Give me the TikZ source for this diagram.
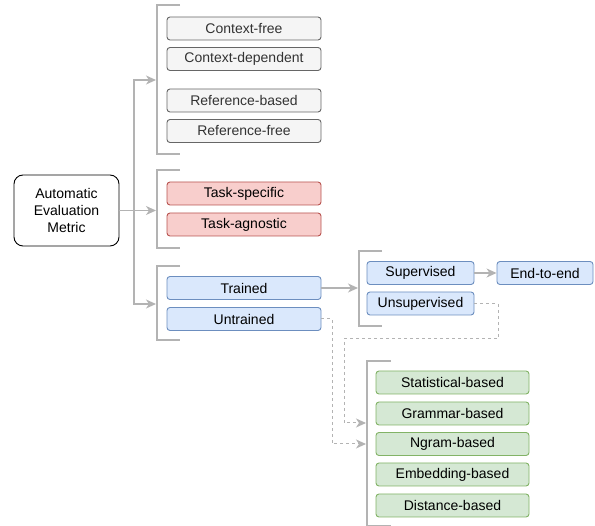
\documentclass[tikz,border=0pt]{standalone}
\usepackage{fontspec}
\setmainfont{Liberation Sans}
\usepackage{tikz}
\usetikzlibrary{calc}
\usetikzlibrary{positioning}
\usetikzlibrary{arrows.meta}

\definecolor{lgray}{HTML}{B3B3B3}
\definecolor{grayfill}{HTML}{F5F5F5}
\definecolor{grayline}{HTML}{666666}
\definecolor{graytext}{HTML}{333333}
\definecolor{redfill}{HTML}{F8CECC}
\definecolor{redline}{HTML}{B85450}
\definecolor{bluefill}{HTML}{DAE8FC}
\definecolor{blueline}{HTML}{6C8EBF}
\definecolor{greenfill}{HTML}{D5E8D4}
\definecolor{greenline}{HTML}{82B366}

\tikzset{
  box/.style={draw,rounded corners=3pt,minimum height=23pt,inner sep=0pt,
    font=\fontsize{14}{16}\selectfont,line width=0.9pt},
  graybox/.style={box,fill=grayfill,draw=grayline,text=graytext,minimum width=154pt},
  redbox/.style={box,fill=redfill,draw=redline,minimum width=154pt},
  bluebox/.style={box,fill=bluefill,draw=blueline},
  greenbox/.style={box,fill=greenfill,draw=greenline,minimum width=153pt},
  bracket/.style={draw=lgray,line width=2.6pt},
  arr/.style={draw=lgray,line width=1.4pt,-{Stealth[length=10pt,width=9pt,inset=3pt]}},
  dline/.style={draw=lgray,line width=1pt,dash pattern=on 3pt off 3pt,
    -{Stealth[length=10pt,width=9pt,inset=3pt]}}
}

\begin{document}
\begin{tikzpicture}[x=1pt,y=-1pt]
      \useasboundingbox (0,0) rectangle (595,526);

      % root
      \node[draw,rounded corners=9pt,minimum width=105pt,minimum height=71pt,line width=0.9pt,
        align=center,font=\fontsize{14}{16.7}\selectfont] (auto) at (66.5,210.5)
        {Automatic\\Evaluation\\Metric};

      % brackets
      \draw[bracket] (180,5) -- (157,5) -- (157,154) -- (180,154);
      \draw[bracket] (180,170) -- (157,170) -- (157,248) -- (180,248);
      \draw[bracket] (180,266) -- (157,266) -- (157,340) -- (180,340);
      \draw[bracket] (382,251) -- (359,251) -- (359,326) -- (382,326);
      \draw[bracket] (391,361) -- (367,361) -- (367,526) -- (391,526);

      \coordinate (b1) at (156,80);
      \coordinate (b2) at (156,210.5);
      \coordinate (b3) at (156,304);
      \coordinate (b4) at (358,288);
      \coordinate (g1) at (366,423);
      \coordinate (g2) at (366,444);
      \coordinate (jn) at (134,210.5);

      % context / reference
      \node[graybox] (cfree) at (244,28.5) {Context-free};
      \node[graybox] (cdep) at (244,59) {Context-dependent};
      \node[graybox] (rbased) at (244,100.5) {Reference-based};
      \node[graybox] (rfree) at (244,131) {Reference-free};

      % task
      \node[redbox] (tspec) at (244,193.5) {Task-specific};
      \node[redbox] (tagn) at (244,224.5) {Task-agnostic};

      % training
      \node[bluebox,minimum width=154pt] (trained) at (244,288) {Trained};
      \node[bluebox,minimum width=154pt] (untrained) at (244,319) {Untrained};
      \node[bluebox,minimum width=107pt] (sup) at (420.5,273) {Supervised};
      \node[bluebox,minimum width=107pt] (unsup) at (420.5,303.5) {Unsupervised};
      \node[bluebox,minimum width=96pt] (e2e) at (545,273) {End-to-end};

      % untrained kinds
      \node[greenbox] (stat) at (452.5,382.5) {Statistical-based};
      \node[greenbox] (gram) at (452.5,413.5) {Grammar-based};
      \node[greenbox] (ngram) at (452.5,444) {Ngram-based};
      \node[greenbox] (emb) at (452.5,474.5) {Embedding-based};
      \node[greenbox] (dist) at (452.5,505.5) {Distance-based};

      % connectors
      \draw[arr] (auto.east) -- (b2);
      \draw[arr] (jn) |- (b1);
      \draw[arr] (jn) |- (b3);
      \draw[arr] (trained.east) -- (b4);
      \draw[arr] (sup) -- (e2e);
      \draw[dline] (unsup.east) -| (498,339) -| (344,423) -- (g1);
      \draw[dline] (untrained.east) -| (332,444) -- (g2);
\end{tikzpicture}
\end{document}
